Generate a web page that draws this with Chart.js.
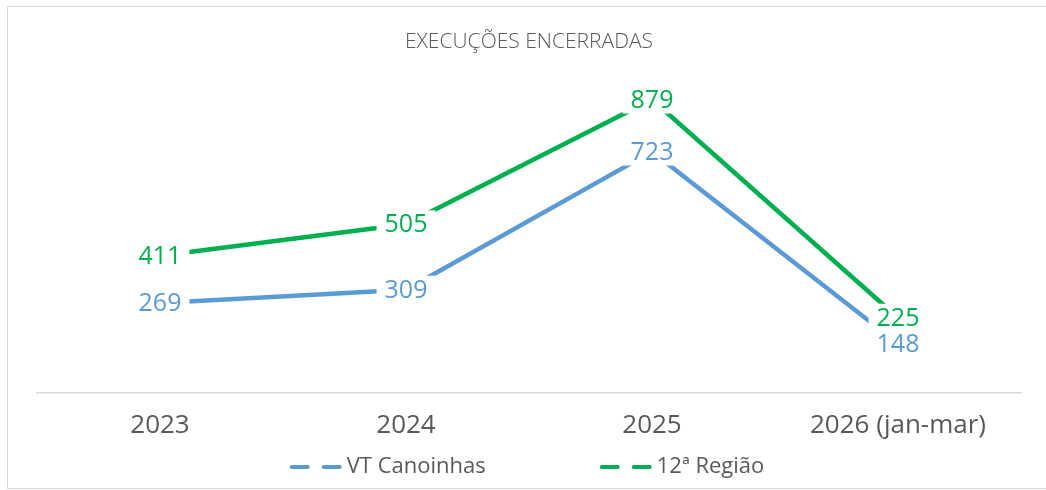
<!DOCTYPE html>
<html>
<head>
<meta charset="utf-8">
<script src="https://cdn.jsdelivr.net/npm/chart.js@4"></script>
<style>
  body { margin: 0; background: #fff; }
  #wrap {
    position: absolute; left: 7px; top: 6px;
    width: 1040px; height: 481px;
    border: 1px solid #d9d9d9;
  }
</style>
</head>
<body>
<div id="wrap"><canvas id="grafico" width="1040" height="481"></canvas></div>
<script>
const anos = ['2023', '2024', '2025', '2026 (jan-mar)'];
const vtCanoinhas = [269, 309, 723, 148];
const regiao12 = [411, 505, 879, 225];
const nomes = ['VT Canoinhas', '12ª Região'];
const cores = ['#5B9BD5', '#00B050'];

const fonte = '"Open Sans", "Noto Sans", sans-serif';

// Rótulos de dados centrados sobre o ponto, com fundo branco cortando a linha
const rotulos = {
  id: 'rotulos',
  afterDatasetsDraw(chart) {
    const ctx = chart.ctx;
    ctx.save();
    ctx.font = '25px ' + fonte;
    ctx.textAlign = 'center';
    ctx.textBaseline = 'middle';
    chart.data.datasets.forEach((ds, i) => {
      const meta = chart.getDatasetMeta(i);
      meta.data.forEach((pt, j) => {
        const txt = String(ds.data[j]);
        const w = ctx.measureText(txt).width;
        ctx.fillStyle = '#fff';
        ctx.fillRect(pt.x - w / 2 - 8, pt.y - 14, w + 16, 28);
      });
    });
    chart.data.datasets.forEach((ds, i) => {
      const meta = chart.getDatasetMeta(i);
      meta.data.forEach((pt, j) => {
        ctx.fillStyle = ds.borderColor;
        ctx.fillText(String(ds.data[j]), pt.x, pt.y + 1);
      });
    });
    ctx.restore();
  }
};

// Legenda com traço tracejado
const legenda = {
  id: 'legenda',
  afterDraw(chart) {
    const ctx = chart.ctx;
    ctx.save();
    ctx.font = '22px ' + fonte;
    ctx.textBaseline = 'middle';
    const simbolo = 57, gap = 114;
    const larguras = chart.data.datasets.map(ds => simbolo + ctx.measureText(ds.label).width);
    const total = larguras.reduce((a, b) => a + b, 0) + gap * (larguras.length - 1);
    let x = (chart.chartArea.left + chart.chartArea.right) / 2 - 2 - total / 2;
    const y = 460;
    chart.data.datasets.forEach((ds, i) => {
      ctx.strokeStyle = ds.borderColor;
      ctx.lineWidth = 4;
      ctx.lineCap = 'round';
      ctx.setLineDash([16, 16]);
      ctx.beginPath();
      ctx.moveTo(x + 2, y);
      ctx.lineTo(x + 50, y);
      ctx.stroke();
      ctx.setLineDash([]);
      ctx.fillStyle = '#595959';
      ctx.fillText(ds.label, x + simbolo, y);
      x += larguras[i] + gap;
    });
    ctx.restore();
  }
};

new Chart(document.getElementById('grafico'), {
  type: 'line',
  data: {
    labels: anos,
    datasets: [
      { label: nomes[0], data: vtCanoinhas, borderColor: cores[0], backgroundColor: cores[0] },
      { label: nomes[1], data: regiao12, borderColor: cores[1], backgroundColor: cores[1] }
    ]
  },
  options: {
    responsive: false,
    animation: false,
    layout: { padding: { left: 29, right: 27, top: 0, bottom: 30 } },
    elements: {
      line: { borderWidth: 4.5, tension: 0, borderCapStyle: 'butt' },
      point: { radius: 0, hoverRadius: 0 }
    },
    plugins: {
      legend: { display: false },
      tooltip: { enabled: false },
      title: {
        display: true,
        text: 'EXECUÇÕES ENCERRADAS',
        color: '#595959',
        font: { family: fonte, size: 21, weight: '300' },
        padding: { top: 22, bottom: 5 }
      }
    },
    scales: {
      x: {
        offset: true,
        grid: { display: false, drawTicks: false },
        border: { display: true, color: '#d9d9d9', width: 1.5 },
        ticks: { color: '#595959', font: { family: fonte, size: 26 }, padding: 17, maxRotation: 0 }
      },
      y: {
        display: false,
        min: 0,
        max: 1000
      }
    }
  },
  plugins: [rotulos, legenda]
});
</script>
</body>
</html>
